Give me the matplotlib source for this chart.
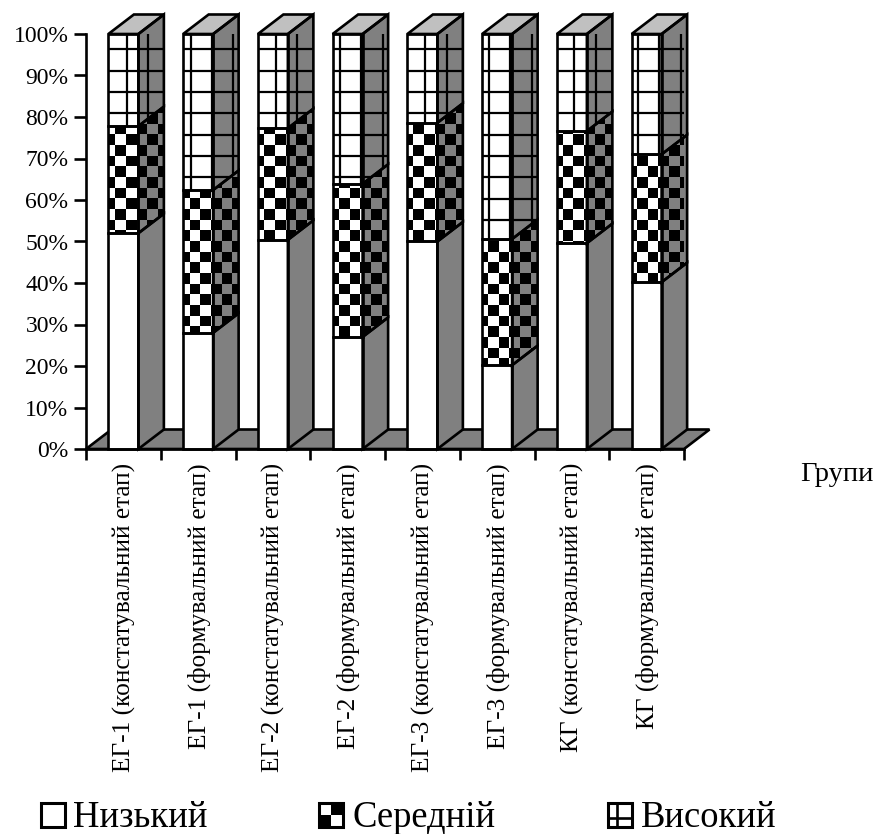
import matplotlib
matplotlib.use('Agg')
import matplotlib.pyplot as plt
import numpy as np
from matplotlib.collections import LineCollection, PolyCollection
from matplotlib.patches import Polygon, Rectangle

plt.rcParams['font.family'] = ['Liberation Serif', 'DejaVu Serif']

groups = ['ЕГ-1 (констатувальний етап)', 'ЕГ-1 (формувальний етап)',
          'ЕГ-2 (констатувальний етап)', 'ЕГ-2 (формувальний етап)',
          'ЕГ-3 (констатувальний етап)', 'ЕГ-3 (формувальний етап)',
          'КГ (констатувальний етап)', 'КГ (формувальний етап)']
low = [52, 28, 50.4, 27, 50, 20.2, 49.6, 40.2]
mid = [25.8, 34.4, 26.9, 36.9, 28.6, 30.4, 27, 30.8]
high = [22.2, 37.6, 22.7, 36.1, 21.4, 49.4, 23.4, 29]
legend_names = ['Низький', 'Середній', 'Високий']

W, H = 876, 834
L, R, T, B = 86, 684, 34, 449
ux = 8 / (R - L)      # data units per pixel
uy = 100 / (B - T)
DX, DY = 25.5 * ux, 19.5 * uy
BAR = 30 * ux
P = 21.3              # pattern period, px
GRAY = '#808080'
LW = 1.9

fig = plt.figure(figsize=(W / 100, H / 100), dpi=100)
ax = fig.add_axes([L / W, 1 - B / H, (R - L) / W, (B - T) / H])
ax.set_xlim(0, 8)
ax.set_ylim(0, 100)
for s in ['top', 'right']:
    ax.spines[s].set_visible(False)
for s in ['left', 'bottom']:
    ax.spines[s].set_linewidth(LW)
    ax.spines[s].set_zorder(20)


def face(pts, color, z):
    p = Polygon(pts, closed=True, fc=color, ec='none', zorder=z, clip_on=False)
    ax.add_patch(p)
    return p


def outline(pts, z):
    ax.add_patch(Polygon(pts, closed=True, fc='none', ec='black', lw=LW, zorder=z,
                         clip_on=False, joinstyle='miter'))


def grid_on(poly, z):
    # screen aligned grid, as the chart program fills patterns
    x0, y0 = (127 - L) * ux, (B - 49.5) * uy
    xa, ya = poly.get_xy().min(axis=0)
    xb, yb = poly.get_xy().max(axis=0)
    px, py = P * ux, P * uy
    segs = []
    for x in np.arange(x0 + np.floor((xa - x0) / px) * px, xb + px, px):
        segs.append([(x, ya), (x, yb)])
    for y in np.arange(y0 + np.floor((ya - y0) / py) * py, yb + py, py):
        segs.append([(xa, y), (xb, y)])
    lc = LineCollection(segs, colors='black', linewidths=1.6, zorder=z)
    ax.add_collection(lc, autolim=False)
    lc.set_clip_path(poly)


def checks_on(poly, z):
    x0, y0 = (488 - L) * ux, (B - 241 + P / 2) * uy
    xa, ya = poly.get_xy().min(axis=0)
    xb, yb = poly.get_xy().max(axis=0)
    px, py = P / 2 * ux, P / 2 * uy
    cells = []
    i0 = int(np.floor((xa - x0) / px))
    j0 = int(np.floor((ya - y0) / py))
    for i in range(i0, i0 + int((xb - xa) / px) + 2):
        for j in range(j0, j0 + int((yb - ya) / py) + 2):
            if (i + j) % 2 == 0:
                xx, yy = x0 + i * px, y0 + j * py
                cells.append([(xx, yy), (xx + px, yy), (xx + px, yy + py), (xx, yy + py)])
    pc = PolyCollection(cells, facecolors='black', edgecolors='none', zorder=z)
    ax.add_collection(pc, autolim=False)
    pc.set_clip_path(poly)


# floor
floor = [(0, 0), (DX, DY), (8 + DX, DY), (8, 0)]
face(floor, GRAY, 1)
outline(floor, 2)

for i in range(len(groups)):
    x1 = i + 0.5 - BAR / 2
    x2 = x1 + BAR
    b = 0
    for k, v in enumerate([low[i], mid[i], high[i]]):
        t = b + v
        front = [(x1, b), (x2, b), (x2, t), (x1, t)]
        side = [(x2, b), (x2 + DX, b + DY), (x2 + DX, t + DY), (x2, t)]
        pf = face(front, 'white', 3)
        ps = face(side, GRAY, 3)
        if k == 1:
            checks_on(pf, 4)
            checks_on(ps, 4)
        if k == 2:
            grid_on(pf, 4)
            grid_on(ps, 4)
        outline(front, 5)
        outline(side, 5)
        b = t
    top = [(x1, b), (x2, b), (x2 + DX, b + DY), (x1 + DX, b + DY)]
    pt = face(top, '#c0c0c0', 3)
    grid_on(pt, 4)
    outline(top, 5)

ax.set_yticks(np.arange(0, 101, 10))
ax.set_yticklabels(['%d%%' % v for v in range(0, 101, 10)], fontsize=17)
ax.set_xticks(np.arange(0, 9))
ax.set_xticklabels([])
ax.tick_params(axis='y', length=8.6, width=LW, pad=4, direction='out')
ax.tick_params(axis='x', length=8, width=LW, direction='out')
for i, g in enumerate(groups):
    ax.text(i + 0.5 + ux, -3.4, g, rotation=90, ha='center', va='top', fontsize=18.3)

fig.text(800 / W, 1 - 481 / H, 'Групи', fontsize=20.5, va='baseline')

# legend
lx = [41, 319, 608]
tx = [73, 352, 641]
S = 24
top_y = 803
for k, name in enumerate(legend_names):
    fig.text(tx[k] / W, 1 - 827 / H, name, fontsize=26.4, va='baseline')
    x, y = lx[k] / W, 1 - (top_y + S) / H
    sw, sh = S / W, S / H
    fig.add_artist(Rectangle((x, y), sw, sh, transform=fig.transFigure, fc='white', ec='black', lw=2.2))
    if k == 1:
        fig.add_artist(Rectangle((x, y), sw / 2, sh / 2, transform=fig.transFigure, fc='black', ec='none'))
        fig.add_artist(Rectangle((x + sw / 2, y + sh / 2), sw / 2, sh / 2, transform=fig.transFigure,
                                 fc='black', ec='none'))
    if k == 2:
        fig.add_artist(plt.Line2D([x + sw * 0.36] * 2, [y, y + sh], transform=fig.transFigure,
                                  color='black', lw=LW))
        fig.add_artist(plt.Line2D([x, x + sw], [y + sh * 0.36] * 2, transform=fig.transFigure,
                                  color='black', lw=LW))

fig.savefig('out.png', dpi=100)
